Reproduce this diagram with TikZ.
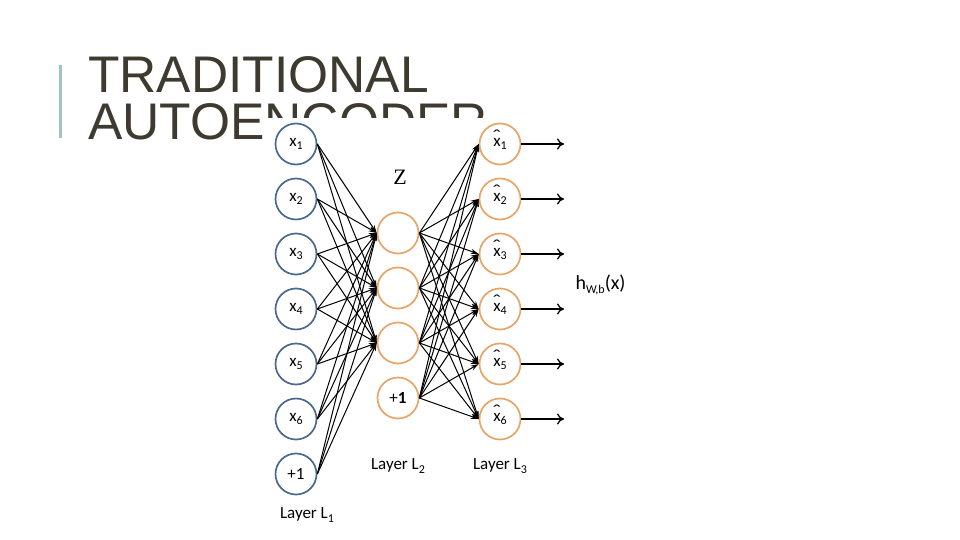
\documentclass[tikz,border=0pt]{standalone}
\usepackage{fontspec}
\setmainfont{Carlito}
\newfontfamily\titlefont{Liberation Sans}
\newfontfamily\zfont{Liberation Serif}
\usetikzlibrary{arrows.meta}
\definecolor{inblue}{HTML}{4A6A8C}
\definecolor{hidorange}{HTML}{E8A568}
\definecolor{titlegray}{HTML}{3E3A30}
\definecolor{barteal}{HTML}{A3C2C2}
\newcommand\lsub[1]{\raisebox{-0.4ex}{\fontsize{12}{12}\selectfont #1}}
\newcommand\xhat{\ooalign{x\cr\hidewidth\raisebox{0.62ex}{\scalebox{1.5}[1]{\char"02C6}}\hidewidth\cr}}
\begin{document}
\begin{tikzpicture}[x=1pt,y=-1pt,
 neuron/.style={circle,draw,line width=1.7pt,minimum size=41pt,inner sep=0pt,font=\fontsize{17}{17}\selectfont},
 inneuron/.style={neuron,draw=inblue},
 hidneuron/.style={neuron,draw=hidorange},
 conn/.style={line width=1pt,-{Stealth[length=8pt,width=5pt]}},
 outarrow/.style={line width=1.3pt,-{To[length=7pt,width=11pt]}},
 lbl/.style={font=\fontsize{17}{17}\selectfont},
 titletext/.style={anchor=base west,inner sep=0pt,text=titlegray,font=\titlefont\fontsize{51.5}{51.5}\selectfont}]
\useasboundingbox (0,0) rectangle (960,540);
\fill[white] (0,0) rectangle (960,540);
\fill[barteal] (58.5,65) rectangle (61.5,138);
\node[titletext] (title1) at (88,93) {TRADITIONAL};
\node[titletext] (title2) at (88,140) {AUTOENCODER};
\fill[white] (267,118) rectangle (640,530);
% input and output layers
\foreach \i/\y in {1/144,2/199,3/254,4/309,5/364,6/419}{
  \node[inneuron] (in\i) at (296,\y) {x\lsub{\i}};
  \node[hidneuron] (out\i) at (500,\y) {\xhat\lsub{\i}};
  \coordinate (end\i) at (564,\y);
}
\node[inneuron] (inb) at (296,474) {+1};
% hidden layer
\node[hidneuron] (h1) at (398,233) {};
\node[hidneuron] (h2) at (398,288) {};
\node[hidneuron] (h3) at (398,343) {};
\node[hidneuron] (hb) at (398,398) {+\textbf{1}};
% connections
\foreach \a in {in1,in2,in3,in4,in5,in6,inb}
  \foreach \b in {h1,h2,h3}
    \draw[conn] (\a.east) -- (\b.west);
\foreach \a in {h1,h2,h3,hb}
  \foreach \b in {out1,out2,out3,out4,out5,out6}
    \draw[conn] (\a.east) -- (\b.west);
\foreach \i in {1,...,6}
  \draw[outarrow] (out\i.east) -- (end\i);
% labels
\node[lbl] (L1) at (307,515) {Layer L\lsub{1}};
\node[lbl] (L2) at (398,466) {Layer L\lsub{2}};
\node[lbl] (L3) at (500,466) {Layer L\lsub{3}};
\node[font=\zfont\fontsize{22}{22}\selectfont] (z) at (400,177) {Z};
\node[anchor=west,font=\fontsize{20}{20}\selectfont] (hlabel) at (572,285) {h\lsub{W,b}(x)};
\end{tikzpicture}
\end{document}
